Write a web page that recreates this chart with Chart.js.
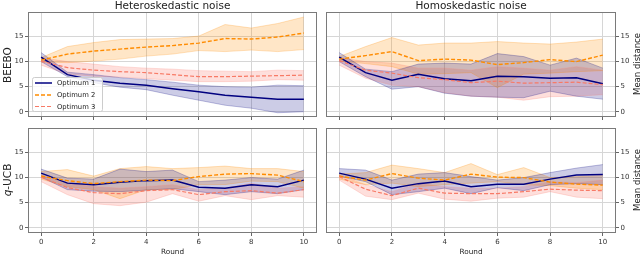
<!DOCTYPE html>
<html>
<head>
<meta charset="utf-8">
<script src="https://cdn.jsdelivr.net/npm/chart.js@4.4.1/dist/chart.umd.min.js"></script>
<style>
  body { margin: 0; background: #fff; }
  #wrap { position: relative; width: 640px; height: 256px; overflow: hidden;
          font-family: "DejaVu Sans", sans-serif; color: #222; }
  canvas { position: absolute; left: 0; top: 0; }
  .lbl { position: absolute; white-space: nowrap; line-height: 1; }
  .mid { transform: translateX(-50%); }
  .rot { transform: translate(-50%, -50%) rotate(-90deg); }
</style>
</head>
<body>
<div id="wrap">
  <canvas id="c0" width="640" height="256"></canvas>
  <canvas id="c1" width="640" height="256"></canvas>
  <canvas id="c2" width="640" height="256"></canvas>
  <canvas id="c3" width="640" height="256"></canvas>

  <div class="lbl mid" style="left:172.5px;top:-0.5px;font-size:10.5px">Heteroskedastic noise</div>
  <div class="lbl mid" style="left:471px;top:-0.5px;font-size:10.5px">Homoskedastic noise</div>
  <div class="lbl rot" style="left:6.5px;top:65px;font-size:10.5px">BEEBO</div>
  <div class="lbl rot" style="left:6.5px;top:180px;font-size:10.5px"><i>q</i>-UCB</div>
  <div class="lbl rot" style="left:636.5px;top:64px;font-size:8.5px">Mean distance</div>
  <div class="lbl rot" style="left:636.5px;top:180px;font-size:8.5px">Mean distance</div>
  <div class="lbl mid" style="left:172.5px;top:248.4px;font-size:7.3px">Round</div>
  <div class="lbl mid" style="left:471px;top:248.4px;font-size:7.3px">Round</div>
</div>

<script>
// x axis: rounds, ticks
const rounds = [0, 1, 2, 3, 4, 5, 6, 7, 8, 9, 10];
const xTicks = [0, 2, 4, 6, 8, 10];
const yTicks = [0, 5, 10, 15];
const seriesNames = ['Optimum 1', 'Optimum 2', 'Optimum 3'];

// BEEBO, heteroskedastic noise (mean, lower, upper)
const beeboHet1 = [10.9, 7.4, 6.3, 5.7, 5.3, 4.6, 4.0, 3.3, 2.9, 2.5, 2.5];
const beeboHet1Lo = [10.0, 7.0, 5.8, 4.9, 4.4, 3.3, 2.3, 1.3, 0.7, -0.2, 0.0];
const beeboHet1Hi = [11.8, 7.9, 7.4, 6.8, 6.4, 5.9, 5.3, 5.0, 4.9, 5.3, 5.2];
const beeboHet2 = [10.3, 11.5, 12.1, 12.5, 12.9, 13.2, 13.7, 14.6, 14.5, 14.9, 15.7];
const beeboHet2Lo = [9.9, 9.8, 10.1, 10.5, 11.1, 11.5, 12.2, 12.0, 12.3, 12.0, 12.4];
const beeboHet2Hi = [10.8, 13.0, 13.8, 14.4, 14.5, 14.6, 15.1, 17.4, 16.7, 17.6, 18.9];
const beeboHet3 = [10.1, 8.8, 8.3, 8.0, 7.8, 7.4, 7.0, 7.0, 7.1, 7.2, 7.3];
const beeboHet3Lo = [9.3, 7.5, 7.1, 6.9, 6.6, 6.3, 6.0, 6.0, 6.1, 6.4, 6.3];
const beeboHet3Hi = [10.8, 10.0, 9.5, 9.0, 8.7, 8.5, 8.2, 8.1, 8.0, 8.3, 8.2];

// BEEBO, homoskedastic noise
const beeboHom1 = [10.9, 7.8, 6.3, 7.5, 6.6, 6.2, 7.1, 7.0, 6.7, 6.8, 5.6];
const beeboHom1Lo = [10.0, 7.0, 4.5, 5.0, 3.7, 3.1, 2.9, 2.8, 4.1, 3.1, 2.5];
const beeboHom1Hi = [11.8, 8.5, 8.0, 9.5, 9.7, 9.5, 11.6, 11.0, 9.3, 10.7, 8.7];
const beeboHom2 = [10.5, 11.2, 12.0, 10.2, 10.5, 10.3, 9.4, 9.8, 10.4, 10.0, 11.3];
const beeboHom2Lo = [10.1, 9.6, 9.0, 7.5, 7.6, 7.8, 4.8, 7.5, 7.7, 8.0, 8.2];
const beeboHom2Hi = [11.0, 13.0, 14.8, 13.3, 13.7, 13.7, 14.0, 13.7, 13.5, 13.9, 14.5];
const beeboHom3 = [10.2, 8.3, 7.7, 6.8, 6.4, 5.8, 6.1, 5.7, 5.8, 5.9, 5.4];
const beeboHom3Lo = [9.3, 6.7, 5.3, 5.0, 3.8, 3.1, 2.9, 2.3, 3.0, 3.1, 3.4];
const beeboHom3Hi = [10.8, 10.0, 9.7, 8.7, 8.7, 8.3, 9.0, 8.7, 8.3, 9.0, 8.3];

// q-UCB, heteroskedastic noise
const ucbHet1 = [10.9, 8.9, 8.6, 9.1, 9.4, 9.5, 8.1, 7.9, 8.6, 8.2, 9.5];
const ucbHet1Lo = [10.1, 7.6, 7.3, 7.2, 7.5, 7.8, 7.2, 6.6, 7.2, 6.8, 7.6];
const ucbHet1Hi = [11.7, 9.9, 9.7, 11.7, 11.2, 11.5, 9.2, 9.5, 10.0, 9.7, 11.5];
const ucbHet2 = [10.3, 9.4, 8.8, 9.2, 9.5, 9.4, 10.2, 10.7, 10.8, 10.5, 9.2];
const ucbHet2Lo = [9.7, 8.2, 7.6, 5.8, 7.6, 7.6, 8.6, 8.6, 9.3, 9.2, 7.9];
const ucbHet2Hi = [11.2, 11.6, 10.3, 11.8, 12.2, 11.8, 12.0, 12.3, 11.8, 11.8, 11.2];
const ucbHet3 = [10.1, 8.0, 7.0, 6.8, 7.4, 7.6, 6.6, 7.2, 7.4, 6.9, 7.6];
const ucbHet3Lo = [9.2, 6.6, 4.8, 4.4, 5.1, 6.8, 5.3, 6.4, 5.6, 6.4, 6.1];
const ucbHet3Hi = [10.5, 9.0, 8.2, 7.9, 8.2, 8.6, 7.6, 7.9, 8.9, 7.9, 8.2];

// q-UCB, homoskedastic noise
const ucbHom1 = [10.9, 9.7, 7.9, 8.8, 9.3, 8.2, 8.7, 8.7, 9.7, 10.5, 10.6];
const ucbHom1Lo = [10.3, 9.2, 6.6, 7.2, 7.9, 6.8, 8.0, 7.4, 8.6, 8.8, 8.6];
const ucbHom1Hi = [11.8, 11.5, 9.5, 10.7, 11.0, 10.2, 9.5, 10.0, 11.0, 11.9, 12.6];
const ucbHom2 = [10.3, 9.5, 10.8, 9.9, 9.5, 10.7, 10.1, 10.0, 9.1, 8.7, 8.5];
const ucbHom2Lo = [9.7, 8.6, 8.9, 8.2, 8.6, 8.9, 9.2, 8.6, 8.4, 7.9, 7.6];
const ucbHom2Hi = [10.7, 11.0, 12.5, 11.8, 11.0, 12.8, 10.6, 12.0, 10.0, 10.2, 10.4];
const ucbHom3 = [10.2, 7.7, 6.4, 7.9, 6.9, 6.8, 6.8, 7.2, 7.7, 7.5, 7.4];
const ucbHom3Lo = [9.5, 6.3, 5.6, 6.9, 5.7, 5.3, 5.9, 6.1, 7.2, 6.1, 5.8];
const ucbHom3Hi = [10.5, 8.6, 7.2, 8.9, 8.2, 7.9, 7.9, 8.2, 9.2, 9.0, 9.5];

const FONT = '"DejaVu Sans", sans-serif';
const styles = [
  { line: '#000080', rgb: '0,0,128', dash: [], width: 1.5, fillA: 0.2 },
  { line: '#ff8c00', rgb: '255,140,0', dash: [4, 2], width: 1.4, fillA: 0.22 },
  { line: '#f87a66', rgb: '250,128,114', dash: [4, 2], width: 1.2, fillA: 0.25 }
];

function pts(arr) {
  return rounds.map((r, i) => ({ x: r, y: arr[i] }));
}

function buildDatasets(series) {
  const sets = [];
  series.forEach((s, i) => {
    const st = styles[i];
    sets.push({ data: pts(s.hi), borderColor: 'rgba(' + st.rgb + ',0.35)', borderWidth: 0.7,
                pointRadius: 0, fill: false, order: 20 + i });
    sets.push({ data: pts(s.lo), borderColor: 'rgba(' + st.rgb + ',0.35)', borderWidth: 0.7,
                pointRadius: 0, fill: '-1', backgroundColor: 'rgba(' + st.rgb + ',' + st.fillA + ')',
                order: 20 + i });
  });
  series.forEach((s, i) => {
    const st = styles[i];
    sets.push({ label: seriesNames[i], data: pts(s.mean), borderColor: st.line,
                borderWidth: st.width, borderDash: st.dash, pointRadius: 0, fill: false,
                order: 3 - i });
  });
  return sets;
}

const framePlugin = {
  id: 'frame',
  afterDatasetsDraw(chart) {
    const { ctx, chartArea: a } = chart;
    const l = Math.round(a.left), t = Math.round(a.top);
    const r = Math.round(a.right), b = Math.round(a.bottom);
    ctx.save();
    ctx.strokeStyle = '#7a7a7a';
    ctx.lineWidth = 1;
    ctx.strokeRect(l + 0.5, t + 0.5, r - l - 1, b - t - 1);
    ctx.restore();
  }
};

// legend box drawn inside top-left panel
const legendPlugin = {
  id: 'innerLegend',
  afterDraw(chart, args, opts) {
    if (!opts.show) return;
    const ctx = chart.ctx;
    ctx.save();
    ctx.fillStyle = 'rgba(255,255,255,0.8)';
    ctx.strokeStyle = '#cccccc';
    ctx.lineWidth = 1;
    ctx.beginPath();
    ctx.roundRect(32.5, 77.5, 70, 34, 2);
    ctx.fill();
    ctx.stroke();
    const rows = [83, 95, 106.5];
    ctx.font = '6.8px ' + FONT;
    ctx.textBaseline = 'middle';
    rows.forEach((y, i) => {
      const st = styles[i];
      ctx.strokeStyle = st.line;
      ctx.lineWidth = st.width;
      ctx.setLineDash(st.dash);
      ctx.beginPath();
      ctx.moveTo(35, y);
      ctx.lineTo(52, y);
      ctx.stroke();
      ctx.setLineDash([]);
      ctx.fillStyle = '#222';
      ctx.fillText(seriesNames[i], 57, y + 0.5);
    });
    ctx.restore();
  }
};

function makePanel(id, rect, yPos, showX, series, legend) {
  const Wy = yPos === 'left' ? 28 : 16;
  const Hx = showX ? 20 : 5;
  const pad = {
    left: yPos === 'left' ? rect.l - Wy : rect.l,
    right: yPos === 'right' ? 640 - rect.r - Wy : 640 - rect.r,
    top: rect.t,
    bottom: 256 - rect.b - Hx
  };
  return new Chart(document.getElementById(id), {
    type: 'line',
    data: { datasets: buildDatasets(series) },
    options: {
      responsive: false,
      animation: false,
      devicePixelRatio: 1,
      layout: { padding: pad },
      plugins: {
        legend: { display: false },
        tooltip: { enabled: false },
        filler: { drawTime: 'beforeDatasetsDraw' },
        innerLegend: { show: legend }
      },
      elements: { line: { tension: 0 } },
      scales: {
        x: {
          type: 'linear', min: -0.5, max: 10.5,
          afterBuildTicks: s => { s.ticks = xTicks.map(v => ({ value: v })); },
          afterFit: s => { s.height = Hx; },
          grid: { color: '#d6d6d6', lineWidth: 1, tickLength: 3, tickColor: '#666' },
          border: { display: false },
          ticks: { display: showX, maxRotation: 0, padding: 2, color: '#333',
                   font: { family: FONT, size: 7 } }
        },
        y: {
          type: 'linear', position: yPos, min: -1.05, max: 19.9,
          afterBuildTicks: s => { s.ticks = yTicks.map(v => ({ value: v })); },
          afterFit: s => { s.width = Wy; },
          grid: { color: '#d6d6d6', lineWidth: 1, tickLength: 3, tickColor: '#666' },
          border: { display: false },
          ticks: { padding: 1.5, color: '#333', font: { family: FONT, size: 7 } }
        }
      }
    },
    plugins: [framePlugin, legendPlugin]
  });
}

makePanel('c0', { l: 28, t: 12, r: 317, b: 117 }, 'left', false, [
  { mean: beeboHet1, lo: beeboHet1Lo, hi: beeboHet1Hi },
  { mean: beeboHet2, lo: beeboHet2Lo, hi: beeboHet2Hi },
  { mean: beeboHet3, lo: beeboHet3Lo, hi: beeboHet3Hi }
], true);

makePanel('c1', { l: 326, t: 12, r: 616, b: 117 }, 'right', false, [
  { mean: beeboHom1, lo: beeboHom1Lo, hi: beeboHom1Hi },
  { mean: beeboHom2, lo: beeboHom2Lo, hi: beeboHom2Hi },
  { mean: beeboHom3, lo: beeboHom3Lo, hi: beeboHom3Hi }
], false);

makePanel('c2', { l: 28, t: 128, r: 317, b: 233 }, 'left', true, [
  { mean: ucbHet1, lo: ucbHet1Lo, hi: ucbHet1Hi },
  { mean: ucbHet2, lo: ucbHet2Lo, hi: ucbHet2Hi },
  { mean: ucbHet3, lo: ucbHet3Lo, hi: ucbHet3Hi }
], false);

makePanel('c3', { l: 326, t: 128, r: 616, b: 233 }, 'right', true, [
  { mean: ucbHom1, lo: ucbHom1Lo, hi: ucbHom1Hi },
  { mean: ucbHom2, lo: ucbHom2Lo, hi: ucbHom2Hi },
  { mean: ucbHom3, lo: ucbHom3Lo, hi: ucbHom3Hi }
], false);
</script>
</body>
</html>
